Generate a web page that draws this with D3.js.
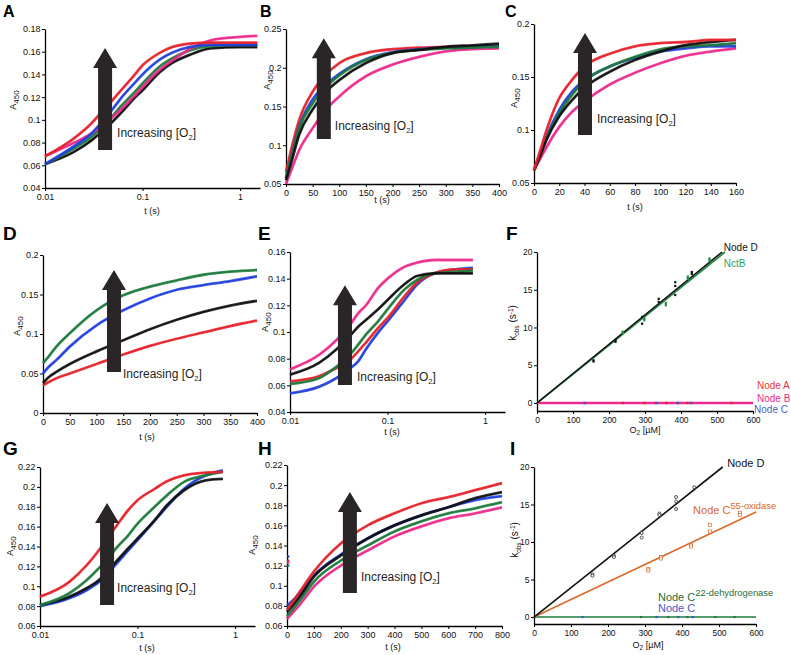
<!DOCTYPE html>
<html>
<head>
<meta charset="utf-8">
<script src="https://cdn.jsdelivr.net/npm/d3@7"></script>
<style>
  body { margin: 0; background: #fff; }
  svg { display: block; }
  text { font-family: "Liberation Sans", Arial, Helvetica, sans-serif; }
</style>
</head>
<body>
<div id="fig"></div>
<script>
// ---------- data ----------
// A: log time axis
const aTimes = [0.01, 0.02, 0.03, 0.04, 0.05, 0.06, 0.08, 0.1, 0.15, 0.2, 0.3, 0.5, 1, 1.5];
const aRed   = [0.068, 0.084, 0.097, 0.109, 0.118, 0.126, 0.138, 0.148, 0.159, 0.164, 0.167, 0.168, 0.168, 0.168];
const aBlue  = [0.061, 0.077, 0.088, 0.100, 0.110, 0.119, 0.131, 0.140, 0.153, 0.159, 0.164, 0.166, 0.166, 0.166];
const aGreen = [0.061, 0.075, 0.085, 0.095, 0.104, 0.112, 0.123, 0.132, 0.147, 0.154, 0.161, 0.165, 0.166, 0.166];
const aPink  = [0.068, 0.080, 0.088, 0.096, 0.103, 0.109, 0.120, 0.129, 0.144, 0.152, 0.162, 0.170, 0.173, 0.174];
const aBlack = [0.061, 0.072, 0.082, 0.091, 0.099, 0.106, 0.118, 0.126, 0.142, 0.150, 0.157, 0.163, 0.164, 0.164];

// B
const bTimes = [0, 10, 25, 50, 75, 100, 150, 200, 250, 300, 350, 400];
const bRed   = [0.065, 0.095, 0.133, 0.169, 0.191, 0.206, 0.219, 0.224, 0.226, 0.227, 0.228, 0.228];
const bBlue  = [0.058, 0.085, 0.124, 0.159, 0.178, 0.192, 0.211, 0.220, 0.224, 0.226, 0.227, 0.228];
const bGreen = [0.058, 0.084, 0.122, 0.154, 0.175, 0.190, 0.210, 0.219, 0.223, 0.225, 0.226, 0.227];
const bBlack = [0.055, 0.078, 0.114, 0.146, 0.169, 0.184, 0.206, 0.219, 0.223, 0.227, 0.229, 0.231];
const bPink  = [0.050, 0.068, 0.094, 0.122, 0.146, 0.163, 0.189, 0.204, 0.214, 0.221, 0.224, 0.225];

// C
const cTimes = [0, 5, 10, 20, 30, 40, 60, 80, 100, 120, 140, 160];
const cRed   = [0.062, 0.081, 0.100, 0.130, 0.147, 0.160, 0.172, 0.179, 0.182, 0.183, 0.185, 0.185];
const cBlue  = [0.062, 0.078, 0.094, 0.119, 0.136, 0.147, 0.160, 0.168, 0.174, 0.177, 0.179, 0.179];
const cGreen = [0.062, 0.077, 0.092, 0.116, 0.133, 0.146, 0.160, 0.169, 0.176, 0.179, 0.180, 0.182];
const cBlack = [0.062, 0.076, 0.091, 0.113, 0.128, 0.140, 0.155, 0.166, 0.174, 0.180, 0.183, 0.185];
const cPink  = [0.062, 0.073, 0.084, 0.103, 0.117, 0.127, 0.143, 0.154, 0.163, 0.170, 0.174, 0.177];

// D
const dTimes = [0, 10, 25, 50, 100, 150, 200, 250, 300, 350, 400];
const dGreen = [0.063, 0.071, 0.084, 0.101, 0.130, 0.149, 0.160, 0.168, 0.175, 0.179, 0.181];
const dBlue  = [0.050, 0.058, 0.067, 0.084, 0.111, 0.130, 0.145, 0.156, 0.162, 0.167, 0.173];
const dBlack = [0.038, 0.045, 0.052, 0.062, 0.078, 0.092, 0.106, 0.118, 0.128, 0.136, 0.142];
const dRed   = [0.035, 0.039, 0.044, 0.050, 0.062, 0.074, 0.085, 0.094, 0.102, 0.110, 0.117];

// E: log time axis
const eTimes = [0.01, 0.02, 0.03, 0.04, 0.05, 0.06, 0.08, 0.1, 0.15, 0.2, 0.3, 0.5, 0.75];
const ePink  = [0.072, 0.083, 0.094, 0.104, 0.114, 0.120, 0.133, 0.140, 0.149, 0.152, 0.154, 0.154, 0.154];
const eBlack = [0.068, 0.077, 0.087, 0.096, 0.104, 0.109, 0.117, 0.124, 0.136, 0.142, 0.144, 0.144, 0.144];
const eGreen = [0.061, 0.0655, 0.074, 0.082, 0.0905, 0.098, 0.108, 0.117, 0.132, 0.139, 0.144, 0.145, 0.146];
const eRed   = [0.063, 0.067, 0.073, 0.078, 0.0855, 0.092, 0.103, 0.1105, 0.127, 0.137, 0.144, 0.147, 0.147];
const eBlue  = [0.054, 0.059, 0.0655, 0.072, 0.078, 0.087, 0.0995, 0.108, 0.124, 0.1355, 0.144, 0.147, 0.148];

// F: k_obs vs O2
const fBlackO2  = [157, 157, 218, 218, 292, 292, 338, 338, 384, 384, 384, 430, 430];
const fBlackK   = [5.65, 5.5, 8.1, 8.3, 10.5, 11.4, 13.8, 13.4, 16.0, 15.5, 14.3, 17.35, 17.1];
const fGreenO2  = [238, 238, 298, 298, 358, 358, 419, 419, 479, 479];
const fGreenK   = [9.4, 9.3, 11.2, 11.0, 13.2, 13.0, 16.7, 16.5, 19.1, 18.9];
const fRedO2    = [239, 299, 359, 418, 540];
const fBlueO2   = [132, 331, 391, 428];
const fNodeDFit = [[0, 0], [514, 20]];
const fNctBFit  = [[0, 0], [522, 20]];
const fFlatFit  = [[0, 0], [600, 0]];

// G: log time axis
const gTimes = [0.01, 0.02, 0.03, 0.04, 0.05, 0.06, 0.08, 0.1, 0.15, 0.2, 0.3, 0.5, 0.75];
const gRed   = [0.0895, 0.1045, 0.121, 0.136, 0.150, 0.160, 0.1765, 0.1865, 0.198, 0.2056, 0.2116, 0.2143, 0.215];
const gGreen = [0.081, 0.093, 0.106, 0.118, 0.128, 0.138, 0.151, 0.163, 0.180, 0.1915, 0.205, 0.2116, 0.215];
const gBlack = [0.081, 0.0895, 0.098, 0.106, 0.116, 0.1245, 0.138, 0.148, 0.1665, 0.1815, 0.1966, 0.2066, 0.208];
const gBlue  = [0.080, 0.088, 0.096, 0.104, 0.113, 0.122, 0.136, 0.1465, 0.166, 0.180, 0.198, 0.2116, 0.2166];

// H
const hTimes = [0, 50, 100, 200, 300, 400, 500, 600, 700, 800];
const hRed   = [0.076, 0.095, 0.114, 0.142, 0.160, 0.172, 0.182, 0.188, 0.195, 0.202];
const hBlack = [0.074, 0.090, 0.109, 0.130, 0.147, 0.160, 0.170, 0.178, 0.187, 0.193];
const hBlue  = [0.080, 0.093, 0.110, 0.131, 0.147, 0.160, 0.170, 0.178, 0.185, 0.189];
const hGreen = [0.070, 0.086, 0.104, 0.125, 0.140, 0.154, 0.164, 0.172, 0.177, 0.183];
const hPink  = [0.067, 0.082, 0.099, 0.120, 0.135, 0.149, 0.159, 0.167, 0.172, 0.178];
const hFirst = [0.129, 0.125, 0.123, 0.120]; // blue, red, pink, green at t = 0

// I
const iBlackO2  = [158, 158, 216, 216, 291, 291, 339, 339, 384, 384, 384, 433];
const iBlackK   = [5.7, 5.5, 8.2, 8.0, 11.2, 10.6, 13.8, 13.6, 16.0, 15.4, 14.4, 17.3];
const iOrangeO2 = [309, 309, 343, 343, 424, 424, 476, 476, 557, 557];
const iOrangeK  = [6.4, 6.2, 8.0, 7.8, 9.6, 9.4, 12.3, 11.4, 13.9, 13.6];
const iGreenO2  = [289, 363, 415, 490, 542];
const iBlueO2   = [131, 331, 390, 429];
const iNodeDFit = [[0, 0], [510, 20]];
const iOxFit    = [[0, 0], [600, 14]];
const iFlatFit  = [[0, 0], [600, 0]];

// tick values
const logTicks = [0.01, 0.1, 1];
const aYTicks = [0.04, 0.06, 0.08, 0.1, 0.12, 0.14, 0.16, 0.18];
const bYTicks = [0.05, 0.1, 0.15, 0.2, 0.25];
const bXTicks = [0, 50, 100, 150, 200, 250, 300, 350, 400];
const cYTicks = [0.05, 0.1, 0.15, 0.2];
const cXTicks = [0, 20, 40, 60, 80, 100, 120, 140, 160];
const dYTicks = [0, 0.05, 0.1, 0.15, 0.2];
const eYTicks = [0.04, 0.06, 0.08, 0.1, 0.12, 0.14, 0.16];
const kTicks = [0, 5, 10, 15, 20];
const o2Ticks = [0, 100, 200, 300, 400, 500, 600];
const gYTicks = [0.06, 0.08, 0.1, 0.12, 0.14, 0.16, 0.18, 0.2, 0.22];
const hXTicks = [0, 100, 200, 300, 400, 500, 600, 700, 800];

const RED = "#e5222b", BLUE = "#213fdc", GREEN = "#1d7a3b", PINK = "#ec2a8c",
      BLACK = "#111111", ORANGE = "#d8692a", ARROW = "#2a2526", INK = "#231f20";

// ---------- drawing ----------
const svg = d3.select("#fig").append("svg")
  .attr("width", 791)
  .attr("height", 655);
svg.append("rect").attr("width", 791).attr("height", 655).attr("fill", "#fff");

function setupPanel(p) {
  const g = svg.append("g");
  const x = (p.log ? d3.scaleLog() : d3.scaleLinear()).domain(p.xDomain).range([p.left, p.right]);
  const y = d3.scaleLinear().domain(p.yDomain).range([p.bottom, p.top]);
  const fs = p.tickFont || 9;

  const xa = g.append("g")
    .attr("transform", "translate(0," + p.bottom + ")")
    .call(d3.axisBottom(x).tickValues(p.xTicks).tickFormat(d => String(d))
      .tickSize(3).tickPadding(3).tickSizeOuter(0));
  const ya = g.append("g")
    .attr("transform", "translate(" + p.left + ",0)")
    .call(d3.axisLeft(y).tickValues(p.yTicks).tickFormat(d => String(d))
      .tickSize(3).tickPadding(1.5).tickSizeOuter(0));
  [xa, ya].forEach(a => {
    a.attr("font-family", null).attr("font-size", fs);
    a.select(".domain").attr("stroke", "#000").attr("stroke-width", 1.3);
    a.selectAll(".tick line").attr("stroke", "#000").attr("stroke-width", 1);
    a.selectAll(".tick text").attr("fill", "#111");
  });

  // panel letter
  g.append("text")
    .attr("x", p.lx).attr("y", p.ly)
    .attr("font-size", p.ls).attr("font-weight", "bold")
    .text(p.letter);

  // x label
  const xl = g.append("text")
    .attr("x", p.xlx).attr("y", p.xly)
    .attr("text-anchor", "middle").attr("font-size", 9).attr("fill", "#111");
  if (p.xLabel === "O2") {
    xl.append("tspan").text("O");
    xl.append("tspan").attr("font-size", 6.5).attr("dy", 2).text("2");
    xl.append("tspan").attr("dy", -2).text(" [\u00b5M]");
  } else {
    xl.text("t (s)");
  }

  // y label (rotated)
  const yl = g.append("text")
    .attr("transform", "translate(" + p.ylx + "," + p.yly + ") rotate(-90)")
    .attr("text-anchor", "middle").attr("fill", "#111");
  if (p.yLabel === "k") {
    yl.attr("font-size", 10);
    yl.append("tspan").text("k");
    yl.append("tspan").attr("font-size", 6.5).attr("dy", 2.5).text("obs");
    yl.append("tspan").attr("dy", -2.5).text(" (s");
    yl.append("tspan").attr("font-size", 6.5).attr("dy", -3.5).text("-1");
    yl.append("tspan").attr("dy", 3.5).text(")");
  } else {
    yl.attr("font-size", 9);
    yl.append("tspan").text("A");
    yl.append("tspan").attr("font-size", 8).attr("dy", 3).text("450");
  }
  return { g, x, y };
}

function drawKinetics(pn, times, series) {
  const line = d3.line()
    .x(d => pn.x(d[0]))
    .y(d => pn.y(d[1]))
    .curve(d3.curveMonotoneX);
  series.forEach(s => {
    const pts = times.map((t, i) => [t, s.values[i]]);
    // dense measured points: drawn as a band
    pn.g.append("path")
      .attr("d", line(pts))
      .attr("fill", "none")
      .attr("stroke", s.color)
      .attr("stroke-width", 2.8)
      .attr("stroke-opacity", 0.85);
    // fitted curve
    pn.g.append("path")
      .attr("d", line(pts))
      .attr("fill", "none")
      .attr("stroke", s.color)
      .attr("stroke-width", 1.1);
  });
}

function drawArrow(pn, a) {
  const cx = pn.x(a.t), yb = pn.y(a.from), yt = pn.y(a.to);
  const sw = 7, hw = 12, hh = 20;
  const pts = [[cx - sw, yb], [cx - sw, yt + hh], [cx - hw, yt + hh], [cx, yt],
               [cx + hw, yt + hh], [cx + sw, yt + hh], [cx + sw, yb]];
  pn.g.append("path").attr("d", d3.line()(pts) + "Z").attr("fill", ARROW);

  const t = pn.g.append("text")
    .attr("x", cx + a.dx).attr("y", yb + a.dy)
    .attr("font-family", "'Open Sans', 'Noto Sans', sans-serif")
    .attr("font-size", 12).attr("fill", INK);
  t.append("tspan").text("Increasing [O");
  t.append("tspan").attr("font-size", 7.5).attr("dy", 3).text("2");
  t.append("tspan").attr("dy", -3).text("]");
}

function drawFitLine(pn, pts, color, width) {
  pn.g.append("path")
    .attr("d", d3.line().x(d => pn.x(d[0])).y(d => pn.y(d[1]))(pts))
    .attr("fill", "none").attr("stroke", color).attr("stroke-width", width);
}

function drawDots(pn, xs, ys, color, w, h) {
  pn.g.selectAll(null)
    .data(xs.map((v, i) => [v, ys[i]]))
    .enter().append("rect")
    .attr("x", d => pn.x(d[0]) - w / 2)
    .attr("y", d => pn.y(d[1]) - h / 2)
    .attr("width", w).attr("height", h)
    .attr("fill", color);
}

function drawLabel(pn, pos, color, size, main, sup) {
  const t = pn.g.append("text")
    .attr("x", pn.x(pos[0])).attr("y", pn.y(pos[1]))
    .attr("font-size", size).attr("fill", color);
  t.append("tspan").text(main);
  if (sup) t.append("tspan").attr("font-size", size * 0.85).attr("dy", -5).text(sup);
}

// ---------- panel A ----------
const pA = setupPanel({ letter: "A", lx: 3, ly: 17, ls: 16, left: 45, right: 260, top: 29, bottom: 188,
  log: true, xDomain: [0.01, 1.6], yDomain: [0.04, 0.18], xTicks: logTicks, yTicks: aYTicks,
  xlx: 152, xly: 214, ylx: 16, yly: 100 });
drawKinetics(pA, aTimes, [
  { color: BLACK, values: aBlack }, { color: GREEN, values: aGreen }, { color: PINK, values: aPink },
  { color: BLUE, values: aBlue }, { color: RED, values: aRed }]);
drawArrow(pA, { t: 0.0413, from: 0.0735, to: 0.1633, dx: 12, dy: -13 });

// ---------- panel B ----------
const pB = setupPanel({ letter: "B", lx: 260, ly: 17, ls: 16, left: 286, right: 499, top: 29, bottom: 184,
  xDomain: [0, 400], yDomain: [0.05, 0.25], xTicks: bXTicks, yTicks: bYTicks,
  xlx: 382, xly: 203, ylx: 270, yly: 80 });
drawKinetics(pB, bTimes, [
  { color: PINK, values: bPink }, { color: RED, values: bRed }, { color: BLUE, values: bBlue },
  { color: GREEN, values: bGreen }, { color: BLACK, values: bBlack }]);
drawArrow(pB, { t: 71, from: 0.108, to: 0.238, dx: 11, dy: -9 });

// ---------- panel C ----------
const pC = setupPanel({ letter: "C", lx: 505, ly: 17, ls: 16, left: 534, right: 736, top: 24, bottom: 183,
  xDomain: [0, 160], yDomain: [0.05, 0.2], xTicks: cXTicks, yTicks: cYTicks,
  xlx: 635, xly: 210, ylx: 517, yly: 98 });
drawKinetics(pC, cTimes, [
  { color: PINK, values: cPink }, { color: BLUE, values: cBlue }, { color: GREEN, values: cGreen },
  { color: BLACK, values: cBlack }, { color: RED, values: cRed }]);
drawArrow(pC, { t: 40.4, from: 0.0953, to: 0.1915, dx: 12, dy: -12 });

// ---------- panel D ----------
const pD = setupPanel({ letter: "D", lx: 3, ly: 240, ls: 19, left: 43, right: 257, top: 255, bottom: 413,
  xDomain: [0, 400], yDomain: [0, 0.2], xTicks: bXTicks, yTicks: dYTicks,
  xlx: 147, xly: 440, ylx: 20, yly: 326 });
drawKinetics(pD, dTimes, [
  { color: RED, values: dRed }, { color: BLACK, values: dBlack }, { color: BLUE, values: dBlue },
  { color: GREEN, values: dGreen }]);
drawArrow(pD, { t: 132.7, from: 0.052, to: 0.181, dx: 9, dy: 6 });

// ---------- panel E ----------
const pE = setupPanel({ letter: "E", lx: 258, ly: 240, ls: 19, left: 290, right: 505, top: 252, bottom: 412,
  log: true, xDomain: [0.01, 1.6], yDomain: [0.04, 0.16], xTicks: logTicks, yTicks: eYTicks,
  xlx: 392, xly: 435, ylx: 268, yly: 322 });
drawKinetics(pE, eTimes, [
  { color: BLUE, values: eBlue }, { color: RED, values: eRed }, { color: GREEN, values: eGreen },
  { color: BLACK, values: eBlack }, { color: PINK, values: ePink }]);
drawArrow(pE, { t: 0.0366, from: 0.0602, to: 0.135, dx: 12, dy: -4 });

// ---------- panel F ----------
const pF = setupPanel({ letter: "F", lx: 506, ly: 240, ls: 19, left: 537, right: 753, top: 252, bottom: 411,
  xDomain: [0, 600], yDomain: [-1.06, 20], xTicks: o2Ticks, yTicks: kTicks, tickFont: 8.5,
  xLabel: "O2", xlx: 645, xly: 433, yLabel: "k", ylx: 516, yly: 323 });
drawFitLine(pF, fFlatFit, PINK, 2.4);
drawDots(pF, fRedO2, fRedO2.map(() => 0), RED, 2.4, 2.4);
drawDots(pF, fBlueO2, fBlueO2.map(() => 0), "#3a55c8", 2.4, 2.4);
drawFitLine(pF, fNctBFit, "#2e8b4e", 2);
drawFitLine(pF, fNodeDFit, BLACK, 1.5);
drawDots(pF, fBlackO2, fBlackK, BLACK, 2.2, 2.2);
drawDots(pF, fGreenO2, fGreenK, "#2e8b4e", 2.2, 3);
drawLabel(pF, [519, 20.1], BLACK, 10, "Node D");
drawLabel(pF, [519, 18.0], "#33a05a", 10, "NctB");
drawLabel(pF, [611, 1.85], "#e8333a", 10, "Node A");
drawLabel(pF, [611, 0.13], PINK, 10, "Node B");
drawLabel(pF, [603, -1.32], "#4a5fc8", 10, "Node C");

// ---------- panel G ----------
const pG = setupPanel({ letter: "G", lx: 3, ly: 455, ls: 19, left: 40, right: 255, top: 467, bottom: 626,
  log: true, xDomain: [0.01, 1.6], yDomain: [0.06, 0.22], xTicks: logTicks, yTicks: gYTicks,
  xlx: 147, xly: 651, ylx: 13, yly: 546 });
drawKinetics(pG, gTimes, [
  { color: BLUE, values: gBlue }, { color: BLACK, values: gBlack }, { color: GREEN, values: gGreen },
  { color: RED, values: gRed }]);
drawArrow(pG, { t: 0.0487, from: 0.0812, to: 0.1838, dx: 10, dy: -13 });

// ---------- panel H ----------
const pH = setupPanel({ letter: "H", lx: 258, ly: 455, ls: 19, left: 287, right: 502, top: 465, bottom: 626,
  xDomain: [0, 800], yDomain: [0.06, 0.22], xTicks: hXTicks, yTicks: gYTicks,
  xlx: 393, xly: 650, ylx: 255, yly: 545 });
drawKinetics(pH, hTimes, [
  { color: PINK, values: hPink }, { color: GREEN, values: hGreen }, { color: BLUE, values: hBlue },
  { color: BLACK, values: hBlack }, { color: RED, values: hRed }]);
// first recorded points (dead-time artefact) at t = 0
[BLUE, RED, PINK, GREEN].forEach((c, i) => {
  pH.g.append("rect").attr("x", pH.x(0) + 0.2).attr("y", pH.y(hFirst[i]) - 1.1)
    .attr("width", 2.2).attr("height", 2.2).attr("fill", c);
});
drawArrow(pH, { t: 234, from: 0.0928, to: 0.1932, dx: 11, dy: -12 });

// ---------- panel I ----------
const pI = setupPanel({ letter: "I", lx: 510, ly: 455, ls: 19, left: 534, right: 756, top: 467, bottom: 624,
  xDomain: [0, 600], yDomain: [-0.93, 20], xTicks: o2Ticks, yTicks: kTicks, tickFont: 8.5,
  xLabel: "O2", xlx: 648, xly: 648, yLabel: "k", ylx: 518, yly: 540 });
drawFitLine(pI, iFlatFit, GREEN, 1.6);
drawDots(pI, iGreenO2, iGreenO2.map(() => 0), GREEN, 2.2, 2.2);
drawDots(pI, iBlueO2, iBlueO2.map(() => 0), "#3a55c8", 2.2, 2.2);
drawFitLine(pI, iOxFit, ORANGE, 1.6);
drawFitLine(pI, iNodeDFit, BLACK, 1.6);
pI.g.selectAll(null).data(iBlackO2.map((v, i) => [v, iBlackK[i]])).enter().append("circle")
  .attr("cx", d => pI.x(d[0])).attr("cy", d => pI.y(d[1])).attr("r", 1.5)
  .attr("fill", "#fff").attr("stroke", BLACK).attr("stroke-width", 0.7);
pI.g.selectAll(null).data(iOrangeO2.map((v, i) => [v, iOrangeK[i]])).enter().append("rect")
  .attr("x", d => pI.x(d[0]) - 1.5).attr("y", d => pI.y(d[1]) - 1.5).attr("width", 3).attr("height", 3)
  .attr("fill", "#fff").attr("stroke", ORANGE).attr("stroke-width", 0.7);
drawLabel(pI, [522, 20], BLACK, 11, "Node D");
drawLabel(pI, [430, 13.7], ORANGE, 11, "Node C", "55-oxidase");
drawLabel(pI, [335, 2.13], "#1e6e3a", 11, "Node C", "22-dehydrogenase");
drawLabel(pI, [335, 0.67], "#3f58c8", 11, "Node C");
</script>
</body>
</html>
